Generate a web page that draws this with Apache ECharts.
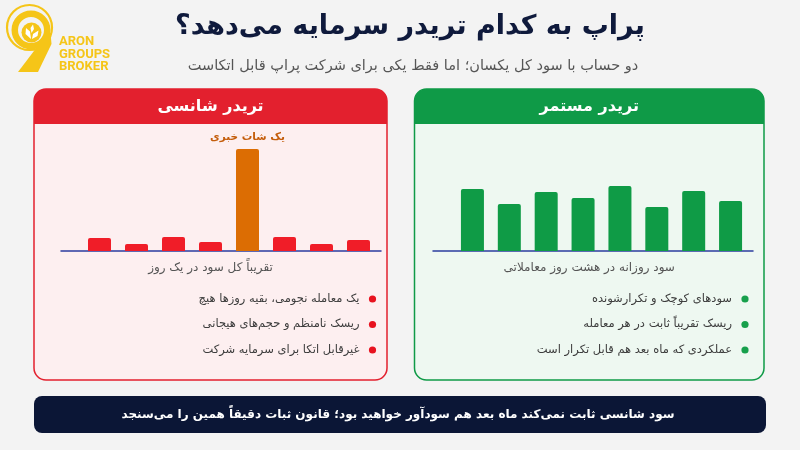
<!DOCTYPE html>
<html>
<head>
<meta charset="utf-8">
<script src="https://cdn.jsdelivr.net/npm/echarts@6/dist/echarts.min.js"></script>
<style>
  html, body { margin: 0; padding: 0; background: #f3f3f3; }
  #chart { width: 800px; height: 450px; }
</style>
</head>
<body>
<div id="chart"></div>
<script>
// data
const days = ['1', '2', '3', '4', '5', '6', '7', '8'];
const luckyProfit = [1.3, 0.7, 1.4, 0.9, 10.2, 1.4, 0.7, 1.1];
const steadyProfit = [6.2, 4.7, 5.9, 5.3, 6.5, 4.4, 6.0, 5.0];
const spikeIndex = 4;
const spikeLabel = 'یک شات خبری';

const title = 'پراپ به کدام تریدر سرمایه می‌دهد؟';
const subtitle = 'دو حساب با سود کل یکسان؛ اما فقط یکی برای شرکت پراپ قابل اتکاست';
const luckyTitle = 'تریدر شانسی';
const steadyTitle = 'تریدر مستمر';
const luckyCaption = 'تقریباً کل سود در یک روز';
const steadyCaption = 'سود روزانه در هشت روز معاملاتی';
const luckyNotes = [
  'یک معامله نجومی، بقیه روزها هیچ',
  'ریسک نامنظم و حجم‌های هیجانی',
  'غیرقابل اتکا برای سرمایه شرکت'
];
const steadyNotes = [
  'سودهای کوچک و تکرارشونده',
  'ریسک تقریباً ثابت در هر معامله',
  'عملکردی که ماه بعد هم قابل تکرار است'
];
const footer = 'سود شانسی ثابت نمی‌کند ماه بعد هم سودآور خواهید بود؛ قانون ثبات دقیقاً همین را می‌سنجد';

const FONT = "'DejaVu Sans', 'Noto Sans', sans-serif";
const RED = '#e3202e';
const GREEN = '#0f9a47';
const AXIS_BLUE = '#2b3d9e';
const GOLD = '#f5c518';

const chart = echarts.init(document.getElementById('chart'));

function panel(x, w, dotGap, color, fill, head, caption, notes, dot) {
  const top = 89, h = 291;
  const cx = x + w / 2;
  const els = [
    { type: 'rect', shape: { x: x, y: top, width: w, height: h, r: 12 },
      style: { fill: fill, stroke: color, lineWidth: 1.5 } },
    { type: 'rect', shape: { x: x, y: top, width: w, height: 35, r: [12, 12, 0, 0] },
      style: { fill: color } },
    { type: 'text', x: cx, y: 107, style: { text: head, fill: '#fff', font: 'bold 16px ' + FONT,
      textAlign: 'center', textVerticalAlign: 'middle' } },
    { type: 'text', x: cx, y: 268, style: { text: caption, fill: '#555', font: '12px ' + FONT,
      textAlign: 'center', textVerticalAlign: 'middle' } }
  ];
  notes.forEach(function (t, i) {
    const y = 299 + i * 25.5;
    els.push({ type: 'circle', shape: { cx: x + w - dotGap, cy: y, r: 3.6 }, style: { fill: dot } });
    els.push({ type: 'text', x: x + w - dotGap - 13, y: y, style: { text: t, fill: '#3d3d3d',
      font: '11.5px ' + FONT, textAlign: 'right', textVerticalAlign: 'middle' } });
  });
  return els;
}

function hiddenY(grid, max) {
  return { type: 'value', gridIndex: grid, min: 0, max: max, show: false };
}

function lineAxis(grid) {
  return { type: 'category', gridIndex: grid, data: days,
    axisLine: { lineStyle: { color: AXIS_BLUE, width: 1.5 } },
    axisTick: { show: false }, axisLabel: { show: false } };
}

function barAxis(grid) {
  return { type: 'category', gridIndex: grid, data: days,
    axisLine: { show: false }, axisTick: { show: false }, axisLabel: { show: false } };
}

const logo = [
  { type: 'circle', shape: { cx: 29.5, cy: 27.5, r: 22.5 }, style: { fill: 'none', stroke: GOLD, lineWidth: 2.2 } },
  { type: 'ring', shape: { cx: 31, cy: 30, r: 19.5, r0: 13 }, style: { fill: GOLD } },
  { type: 'polygon', shape: { points: [[50.5, 33], [51.5, 44], [38, 72], [18, 72], [37, 47]] }, style: { fill: GOLD } },
  { type: 'circle', shape: { cx: 31.5, cy: 32.5, r: 10 }, style: { fill: GOLD } },
  { type: 'polygon', shape: { points: [[31, 39], [25.5, 34], [26, 28], [30, 31.5]] }, style: { fill: '#fff' } },
  { type: 'polygon', shape: { points: [[32, 39], [33, 34], [38.5, 30.5], [37.5, 36]] }, style: { fill: '#fff' } },
  { type: 'polygon', shape: { points: [[31.5, 33], [30.5, 28], [33, 24.5], [34, 29]] }, style: { fill: '#fff' } },
  { type: 'text', x: 59, y: 42, style: { text: 'ARON', fill: GOLD, font: 'bold 13px Roboto, sans-serif', textVerticalAlign: 'middle' } },
  { type: 'text', x: 59, y: 55, style: { text: 'GROUPS', fill: GOLD, font: 'bold 13px Roboto, sans-serif', textVerticalAlign: 'middle' } },
  { type: 'text', x: 59, y: 67, style: { text: 'BROKER', fill: GOLD, font: 'bold 13px Roboto, sans-serif', textVerticalAlign: 'middle' } }
];

const option = {
  backgroundColor: '#f3f3f3',
  animation: false,
  grid: [
    { left: 81, right: 423, top: 131, bottom: 199 },
    { left: 61, right: 419, top: 131, bottom: 199 },
    { left: 454, right: 51, top: 131, bottom: 199 },
    { left: 433, right: 47, top: 131, bottom: 199 }
  ],
  xAxis: [barAxis(0), lineAxis(1), barAxis(2), lineAxis(3)],
  yAxis: [hiddenY(0, 12), hiddenY(1, 12), hiddenY(2, 12), hiddenY(3, 12)],
  series: [
    {
      type: 'bar', xAxisIndex: 0, yAxisIndex: 0, barWidth: 23, z: 3,
      data: luckyProfit.map(function (v, i) {
        if (i !== spikeIndex) return { value: v, itemStyle: { color: '#f01d28' } };
        return {
          value: v,
          itemStyle: { color: '#dc6d03' },
          label: { show: true, position: 'top', distance: 6, formatter: spikeLabel,
            color: '#c45d0b', fontWeight: 'bold', fontSize: 10.5, fontFamily: FONT }
        };
      }),
      itemStyle: { borderRadius: [2, 2, 0, 0] }
    },
    {
      type: 'bar', xAxisIndex: 2, yAxisIndex: 2, barWidth: 23, z: 3,
      data: steadyProfit,
      itemStyle: { color: '#0f9b46', borderRadius: [2, 2, 0, 0] }
    }
  ],
  graphic: {
    elements: [
      { type: 'group', children: logo },
      { type: 'text', x: 410, y: 27, style: { text: title, fill: '#0f1a3c', font: 'bold 27px ' + FONT,
        textAlign: 'center', textVerticalAlign: 'middle' } },
      { type: 'text', x: 413, y: 66, style: { text: subtitle, fill: '#555', font: '14.5px ' + FONT,
        textAlign: 'center', textVerticalAlign: 'middle' } },
      { type: 'group', z: -1, children: panel(34, 353, 14.5, RED, '#fdeff0', luckyTitle, luckyCaption, luckyNotes, '#e8121f') },
      { type: 'group', z: -1, children: panel(414.5, 349.5, 19, GREEN, '#eef8f1', steadyTitle, steadyCaption, steadyNotes, '#17a04c') },
      { type: 'rect', shape: { x: 34, y: 396, width: 732, height: 37, r: 8 }, style: { fill: '#0b1636' } },
      { type: 'text', x: 398, y: 415, style: { text: footer, fill: '#fff', font: 'bold 12px ' + FONT,
        textAlign: 'center', textVerticalAlign: 'middle' } }
    ]
  }
};

chart.setOption(option);
</script>
</body>
</html>
